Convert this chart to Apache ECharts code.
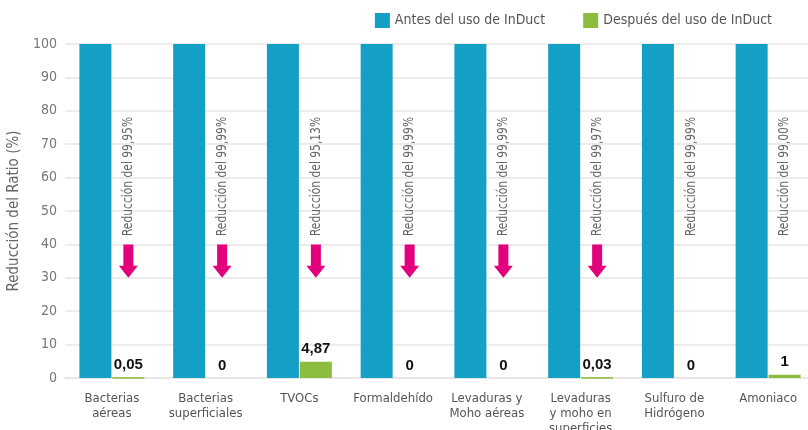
<!DOCTYPE html>
<html>
<head>
<meta charset="utf-8">
<script src="https://cdn.jsdelivr.net/npm/echarts@6/dist/echarts.min.js"></script>
<style>
  html, body { margin: 0; padding: 0; background: #fff; }
  #chart { width: 808px; height: 430px; }
</style>
</head>
<body>
<div id="chart"></div>
<script>
// Categories, values and annotation texts
const categories = [
  'Bacterias\naéreas',
  'Bacterias\nsuperficiales',
  'TVOCs',
  'Formaldehído',
  'Levaduras y\nMoho aéreas',
  'Levaduras\ny moho en\nsuperficies',
  'Sulfuro de\nHidrógeno',
  'Amoniaco'
];
const seriesNames = ['Antes del uso de InDuct', 'Después del uso de InDuct'];
const beforeValues = [100, 100, 100, 100, 100, 100, 100, 100];
const afterValues = [0.05, 0, 4.87, 0, 0, 0.03, 0, 1];
const reductionTexts = [
  'Reducción del 99,95%',
  'Reducción del 99,99%',
  'Reducción del 95,13%',
  'Reducción del 99,99%',
  'Reducción del 99,99%',
  'Reducción del 99,97%',
  'Reducción del 99,99%',
  'Reducción del 99,00%'
];
const showArrow = [true, true, true, true, true, true, false, false];
const yTicks = { min: 0, max: 100, interval: 10 };

const BLUE = '#149fc4';
const GREEN = '#8cbd3f';
const PINK = '#e4007d';
const FONT = '"DejaVu Sans Condensed", "Liberation Sans", sans-serif';
const BAR_W = 32;
const NOTE_Y = 42.5;      // where the rotated note starts (axis units)
const ARROW_TOP = 40;     // arrow start (axis units)
const ARROW_TIP = 30;     // arrow tip (axis units)

const fmt = v => String(v).replace('.', ',');

const chart = echarts.init(document.getElementById('chart'), null, { renderer: 'canvas' });

chart.setOption({
  animation: false,
  textStyle: { fontFamily: FONT },
  legend: {
    top: 8,
    right: 31,
    itemWidth: 15,
    itemHeight: 15,
    itemGap: 38,
    icon: 'rect',
    textStyle: { fontFamily: FONT, fontSize: 14, color: '#555' },
    data: seriesNames
  },
  grid: { left: 65, right: -7, top: 44, bottom: 52, outerBoundsMode: 'none', containLabel: false },
  xAxis: {
    type: 'category',
    data: categories,
    axisTick: { show: false },
    axisLine: { lineStyle: { color: '#e3e3e3', width: 1.5 } },
    axisLabel: {
      interval: 0,
      margin: 13,
      fontFamily: FONT,
      fontSize: 13,
      lineHeight: 15,
      color: '#555'
    }
  },
  yAxis: {
    type: 'value',
    min: yTicks.min,
    max: yTicks.max,
    interval: yTicks.interval,
    name: 'Reducción del Ratio (%)',
    nameLocation: 'middle',
    nameGap: 33,
    nameTextStyle: { fontFamily: FONT, fontSize: 15, color: '#666' },
    axisLabel: { fontFamily: FONT, fontSize: 14, color: '#777', margin: 8 },
    splitLine: { lineStyle: { color: '#e6e6e6', width: 1.5 } },
    axisLine: { show: false },
    axisTick: { show: false }
  },
  series: [
    {
      name: seriesNames[0],
      type: 'bar',
      data: beforeValues,
      barWidth: BAR_W,
      barGap: '3%',
      itemStyle: { color: BLUE }
    },
    {
      name: seriesNames[1],
      type: 'bar',
      barWidth: BAR_W,
      barGap: '3%',
      itemStyle: { color: GREEN },
      data: afterValues.map(v => (v > 0 && v < 0.5)
        ? { value: v, itemStyle: { borderColor: GREEN, borderWidth: 1 } }
        : v),
      label: {
        show: true,
        position: 'top',
        distance: 5,
        fontFamily: '"Liberation Sans", sans-serif',
        fontWeight: 'bold',
        fontSize: 15,
        color: '#111',
        formatter: p => fmt(p.value)
      }
    },
    {
      type: 'custom',
      silent: true,
      data: categories.map((c, i) => [i, NOTE_Y]),
      renderItem: (params, api) => {
        const i = api.value(0);
        const off = BAR_W / 2 + 0.5;
        const x = api.coord([i, 0])[0] + off;
        const yNote = api.coord([i, NOTE_Y])[1];
        const children = [{
          type: 'text',
          x: x,
          y: yNote,
          rotation: Math.PI / 2,
          scaleX: 0.85,
          style: {
            text: reductionTexts[params.dataIndex],
            fontFamily: FONT,
            fontSize: 14,
            fill: '#666',
            align: 'left',
            verticalAlign: 'middle'
          }
        }];
        if (showArrow[params.dataIndex]) {
          const top = api.coord([i, ARROW_TOP])[1];
          const tip = api.coord([i, ARROW_TIP])[1];
          const neck = tip - 12;
          children.push({
            type: 'polygon',
            shape: {
              points: [
                [x - 5, top], [x + 5, top], [x + 5, neck], [x + 9.5, neck],
                [x, tip], [x - 9.5, neck], [x - 5, neck]
              ]
            },
            style: { fill: PINK }
          });
        }
        return { type: 'group', children: children };
      }
    }
  ]
});
</script>
</body>
</html>
